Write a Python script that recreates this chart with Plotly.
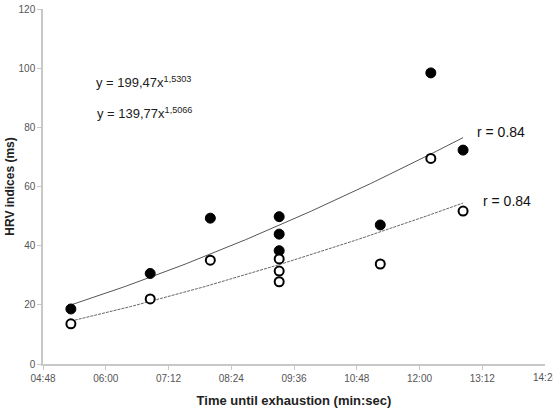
import numpy as np
import plotly.graph_objects as go

# Time until exhaustion in seconds
times_s = [320, 411, 480, 559, 559, 559, 675, 733, 770]
# HRV indices (ms)
filled_vals = [18.6, 30.6, 49.3, 49.8, 43.9, 38.3, 47.0, 98.4, 72.3]
open_vals = [13.6, 22.0, 35.1, 35.5, 31.4, 27.8, 33.8, 69.5, 51.7]

# Power-law fits as printed on the chart (x expressed in Excel day units,
# where the min:sec entries were stored as h:m -> 1 unit = 1440 s)
fit_filled_a, fit_filled_b = 199.47, 1.5303
fit_open_a, fit_open_b = 139.77, 1.5066
time_unit_s = 1440.0

x_tick_vals = [288, 360, 432, 504, 576, 648, 720, 792, 864]
x_tick_text = ["04:48", "06:00", "07:12", "08:24", "09:36", "10:48", "12:00", "13:12", "14:24"]
y_tick_vals = [0, 20, 40, 60, 80, 100, 120]

eq_filled = "y = 199,47x<sup>1,5303</sup>"
eq_open = "y = 139,77x<sup>1,5066</sup>"
r_label = "r = 0.84"

FONT = "Arial, 'Liberation Sans', sans-serif"

t_fit = np.linspace(min(times_s), max(times_s), 120)
y_fit_filled = fit_filled_a * (t_fit / time_unit_s) ** fit_filled_b
y_fit_open = fit_open_a * (t_fit / time_unit_s) ** fit_open_b

fig = go.Figure()
fig.add_trace(go.Scatter(x=t_fit, y=y_fit_filled, mode="lines",
                         line=dict(color="#555555", width=1), hoverinfo="skip"))
fig.add_trace(go.Scatter(x=t_fit, y=y_fit_open, mode="lines",
                         line=dict(color="#666666", width=1, dash="3px,1px"), hoverinfo="skip"))
fig.add_trace(go.Scatter(x=times_s, y=filled_vals, mode="markers",
                         marker=dict(symbol="circle", size=10, color="black",
                                     line=dict(color="black", width=1))))
fig.add_trace(go.Scatter(x=times_s, y=open_vals, mode="markers",
                         marker=dict(symbol="circle", size=9, color="white",
                                     line=dict(color="black", width=2))))

ann_font = dict(family=FONT, size=13, color="#222222")
fig.add_annotation(x=347, y=95.3, text=eq_filled, showarrow=False, xanchor="left",
                   yanchor="middle", font=ann_font)
fig.add_annotation(x=348, y=84.8, text=eq_open, showarrow=False, xanchor="left",
                   yanchor="middle", font=ann_font)
r_font = dict(family=FONT, size=14, color="#111111")
fig.add_annotation(x=784, y=78.4, text=r_label, showarrow=False, xanchor="left",
                   yanchor="middle", font=r_font)
fig.add_annotation(x=790, y=55.0, text=r_label, showarrow=False, xanchor="left",
                   yanchor="middle", font=r_font)
# last tick label, partly cut by the image edge as in the reference
fig.add_annotation(x=x_tick_vals[-1], y=0, xref="x", yref="paper", text=x_tick_text[-1],
                   showarrow=False, xanchor="center", yanchor="top", yshift=-6,
                   font=dict(family=FONT, size=10, color="#555555"))

fig.update_layout(
    width=553, height=413,
    margin=dict(l=43, r=8, t=9, b=49),
    paper_bgcolor="white", plot_bgcolor="white",
    showlegend=False,
    font=dict(family=FONT, size=10, color="#444444"),
    xaxis=dict(range=[288, 864], tickvals=x_tick_vals[:-1], ticktext=x_tick_text[:-1],
               showgrid=False, zeroline=False, showline=True, linecolor="#c8c8c8",
               linewidth=1.5, ticks="outside", ticklen=4, tickcolor="#c8c8c8",
               automargin=False,
               tickfont=dict(family=FONT, size=10, color="#555555"),
               title=dict(text="<b>Time until exhaustion (min:sec)</b>",
                          font=dict(family=FONT, size=13, color="#222222"), standoff=13)),
    yaxis=dict(range=[0, 120], tickvals=y_tick_vals, showgrid=False, zeroline=False,
               showline=True, linecolor="#c8c8c8", linewidth=1.5, ticks="outside",
               ticklen=4, tickcolor="#c8c8c8", automargin=False,
               tickfont=dict(family=FONT, size=10, color="#555555"),
               title=dict(text="<b>HRV indices (ms)</b>",
                          font=dict(family=FONT, size=12, color="#222222"), standoff=1)),
)

fig.write_html("out.html", config={"displayModeBar": False},
               post_script="document.body.style.margin='0';")
